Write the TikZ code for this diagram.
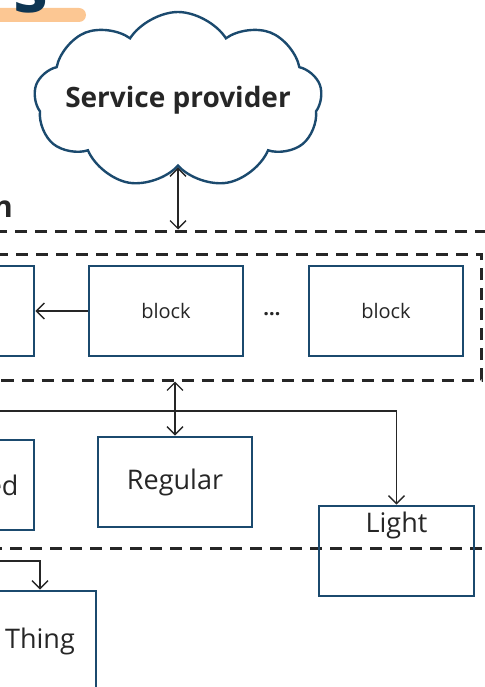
\documentclass[tikz,border=0pt]{standalone}
\usepackage{fontspec}
\setmainfont{Open Sans}
\usetikzlibrary{positioning, shapes.symbols, arrows.meta}
\definecolor{navy}{HTML}{1B4A6E}
\definecolor{ink}{HTML}{262626}
\definecolor{peach}{HTML}{FCC793}
\definecolor{headblue}{HTML}{0E3552}

\begin{document}
\begin{tikzpicture}
    [x=1pt, y=-1pt, text=ink,
    font=\fontsize{20}{24}\selectfont,
    provider/.style={cloud, cloud puffs=9, cloud puff arc=115, cloud ignores aspect,
    draw=navy, line width=2.4pt, minimum width=288pt, minimum height=176pt},
    blockbox/.style={rectangle, draw=navy, line width=2.6pt, minimum width=154pt,
    minimum height=90pt},
    kind/.style={font=\fontsize{27}{32}\selectfont},
    zone/.style={rectangle, draw=ink, line width=3pt, dash pattern=on 12pt off 8pt},
    arrow/.style={draw=ink, line width=1.4pt, -{Straight Barb[length=8pt,width=16pt]}},
    both/.style={arrow, {Straight Barb[length=8pt,width=16pt]}-{Straight Barb[length=8pt,width=16pt]}}]
    \useasboundingbox (0,0) rectangle (484,687);

    % heading
    \fill [peach, rounded corners=7pt] (-20,8) rectangle (86,22);
    \node [anchor=base, inner sep=0pt, text=headblue, font=\fontsize{70}{80}\selectfont\bfseries]
    (title) at (31,13) {s};
    \node [anchor=base east, inner sep=0pt, font=\fontsize{30}{36}\selectfont\bfseries]
    (section) at (13,217) {n};

    \node [provider, label={[font=\fontsize{28}{34}\selectfont\bfseries]center:Service provider}]
    (cloud) at (178,100) {};

    % dashed groups
    \node [zone, minimum width=760pt, minimum height=317pt] (domain) at (150,389.5) {};
    \node [zone, minimum width=700pt, minimum height=126pt] (chain) at (131.5,317) {};

    % chain of blocks
    \node [blockbox] (blk0) at (-43,311) {};
    \node [blockbox, right=52.4pt of blk0] (blk1) {block};
    \node [blockbox, right=63.4pt of blk1] (blkN) {block};
    \node [anchor=base, inner sep=0pt, font=\fontsize{20}{24}\selectfont\bfseries]
    (dots) at (272,315) {…};

    % kinds
    \node [blockbox] (edbox) at (-43,485) {};
    \node [kind, anchor=base east] (edtxt) at (22,495) {ed};
    \node [blockbox, kind] (regular) at (175,482) {Regular};
    \node [blockbox, minimum width=155pt] (light) at (396.5,551) {};
    \node [kind] (lighttxt) at (396.5,525) {Light};
    \node [blockbox, kind, minimum width=112pt, minimum height=100pt] (thing) at (40,641) {Thing};

    \coordinate (busL) at (-20,411);
    \coordinate (feedL) at (-20,561);

    \draw [both] (cloud.south) -- (cloud.south |- domain.north);
    \draw [arrow] (blk1) -- (blk0);
    \draw [both] (chain.south -| regular.north) -- (regular.north);
    \draw [arrow] (busL) -| (light.north);
    \draw [arrow] (feedL) -| (thing.north);
\end{tikzpicture}
\end{document}
